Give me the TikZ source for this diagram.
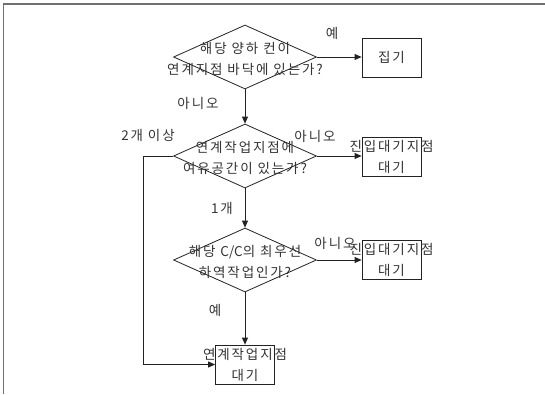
\documentclass[tikz,border=0pt]{standalone}
\usepackage{fontspec}
\setmainfont{Noto Sans CJK KR}[LetterSpace=14]
\usepackage{tikz}
\usetikzlibrary{arrows.meta,shapes.geometric}
\definecolor{cizgi}{HTML}{222222}
\definecolor{yazi}{HTML}{333333}
\definecolor{cerceveGri}{HTML}{707070}
\newcommand{\sikiYazi}[1]{{\addfontfeature{LetterSpace=0}#1}}
\tikzset{
  kararKutu/.style={draw=cizgi,diamond,minimum width=143pt,minimum height=64pt,inner sep=0pt},
  islemKutu/.style={draw=cizgi,rectangle,minimum width=59pt,minimum height=39pt,inner sep=0pt},
  icYazi/.style={text=yazi,align=center,inner sep=0pt,font=\fontsize{13.5}{21}\selectfont},
  etiket/.style={text=yazi,inner sep=0pt,font=\fontsize{13.5}{16}\selectfont},
  ok/.style={draw=cizgi,line width=0.8pt,-{Triangle[length=7pt,width=6pt]}}
}

\begin{document}
\begin{tikzpicture}[x=1pt,y=-1pt,line width=0.8pt]
\useasboundingbox (0,0) rectangle (545,394);
\draw[cerceveGri,line width=1.8pt] (3.5,394) -- (3.5,4) -- (545,4);
\node[kararKutu] (kararBir) at (245,57) {};
\node[kararKutu] (kararIki) at (245,156) {};
\node[kararKutu] (kararUc) at (245,260) {};
\node[islemKutu] (toplama) at (391.5,57.5) {};
\node[islemKutu] (bekleBir) at (391.5,156.5) {};
\node[islemKutu] (bekleIki) at (391.5,260) {};
\node[islemKutu] (bekleUc) at (245,364.5) {};
\node[icYazi] (kararBirYazi) at (245,59) {해당 양하 컨이\\연계지점 바닥에 있는가?};
\node[icYazi] (kararIkiYazi) at (245,158) {연계작업지점에\\여유공간이 있는가?};
\node[icYazi] (kararUcYazi) at (245,262) {해당 \sikiYazi{C/C}의 최우선\\하역작업인가?};
\node[icYazi] (toplamaYazi) at (toplama) {집기};
\node[icYazi] (bekleBirYazi) at (bekleBir) {진입대기지점\\대기};
\node[icYazi] (bekleIkiYazi) at (bekleIki) {진입대기지점\\대기};
\node[icYazi] (bekleUcYazi) at (bekleUc) {연계작업지점\\대기};
\draw[ok] (kararBir.east) -- (kararBir.east -| toplama.west);
\draw[ok] (kararBir.south) -- (kararIki.north);
\draw[ok] (kararIki.east) -- (kararIki.east -| bekleBir.west);
\draw[ok] (kararIki.south) -- (kararUc.north);
\draw[ok] (kararUc.east) -- (kararUc.east -| bekleIki.west);
\draw[ok] (kararUc.south) -- (bekleUc.north);
\draw[ok] (kararIki.west) -- ++(-30,0) |- (bekleUc.west);
\node[etiket] (evetBir) at (332,33) {예};
\node[etiket] (hayirBir) at (198,103) {아니오};
\node[etiket] (ikiFazla) at (148,135) {2개 이상};
\node[etiket] (hayirIki) at (315,136) {아니오};
\node[etiket] (birTane) at (222,208) {1개};
\node[etiket] (hayirUc) at (335,243) {아니오};
\node[etiket] (evetIki) at (215,310) {예};
\end{tikzpicture}
\end{document}
